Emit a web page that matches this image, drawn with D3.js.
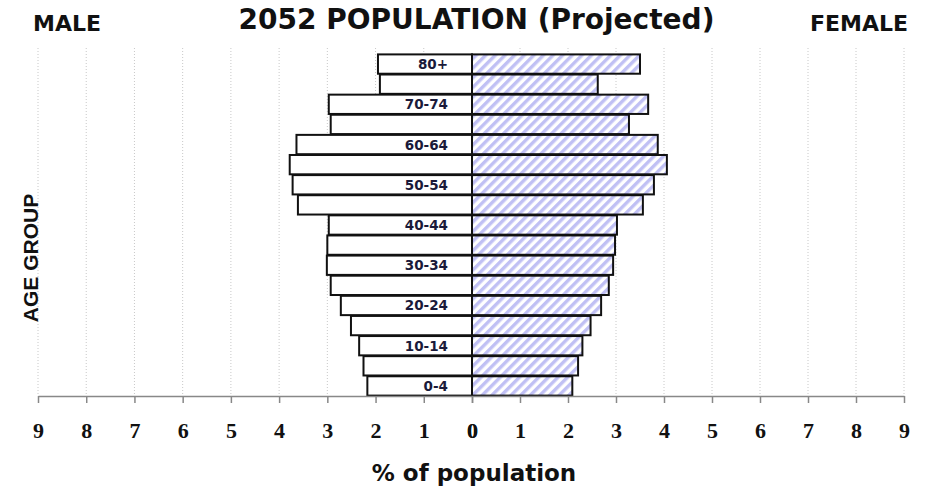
<!DOCTYPE html>
<html><head><meta charset="utf-8">
<script src="https://cdn.jsdelivr.net/npm/d3@7"></script>
<style>body{margin:0;background:#fff}svg{display:block}</style>
</head><body>
<svg id="c" width="928" height="493"></svg>
<script>
const ageGroups = ["0-4","5-9","10-14","15-19","20-24","25-29","30-34","35-39","40-44","45-49","50-54","55-59","60-64","65-69","70-74","75-79","80+"];
const maleValues =   [2.17,2.25,2.34,2.51,2.72,2.93,3.01,3.00,2.97,3.61,3.72,3.78,3.64,2.93,2.97,1.91,1.95];
const femaleValues = [2.09,2.21,2.30,2.47,2.69,2.85,2.94,2.98,3.02,3.56,3.79,4.06,3.87,3.27,3.67,2.62,3.50];
const tickValues = [0,1,2,3,4,5,6,7,8,9];

(function(){
const svg = d3.select("#c");
const cx = 472, pLeft = 38, pRight = 904, pTop = 54, pBottom = 396;
const xL = d3.scaleLinear().domain([0,9]).range([cx,pLeft]);
const xR = d3.scaleLinear().domain([0,9]).range([cx,pRight]);
const y = d3.scaleBand().domain(ageGroups.slice().reverse()).range([pTop,pBottom]).paddingInner(0.04).paddingOuter(0.02);

const defs = svg.append("defs");
const pat = defs.append("pattern").attr("id","hatch").attr("patternUnits","userSpaceOnUse")
  .attr("width",6.8).attr("height",10).attr("patternTransform","rotate(45)");
pat.append("rect").attr("width",6.8).attr("height",10).attr("fill","#fff");
pat.append("rect").attr("x",0).attr("width",3.4).attr("height",10).attr("fill","#c0c0f4");

const g = svg.append("g");
tickValues.filter(d=>d>0).forEach(d=>{
  [xL(d),xR(d)].forEach(x=>{
    g.append("line").attr("x1",x).attr("x2",x).attr("y1",pTop-6).attr("y2",pBottom)
      .attr("stroke","#c8c8c8").attr("stroke-width",1).attr("stroke-dasharray","1,2");
  });
});

svg.append("g").selectAll("rect").data(ageGroups).join("rect")
  .attr("x",(d,i)=>xL(maleValues[i])).attr("y",d=>y(d))
  .attr("width",(d,i)=>cx-xL(maleValues[i])).attr("height",y.bandwidth())
  .attr("fill","#fff").attr("stroke","#111").attr("stroke-width",2);
svg.append("g").selectAll("rect").data(ageGroups).join("rect")
  .attr("x",cx).attr("y",d=>y(d))
  .attr("width",(d,i)=>xR(femaleValues[i])-cx).attr("height",y.bandwidth())
  .attr("fill","url(#hatch)").attr("stroke","#111").attr("stroke-width",2);

svg.append("g").selectAll("text").data(ageGroups.filter((d,i)=>i%2===0)).join("text")
  .attr("x",448).attr("y",d=>y(d)+y.bandwidth()/2+5).attr("text-anchor","end")
  .attr("font-family","DejaVu Sans").attr("font-weight","bold").attr("font-size",13.5)
  .attr("fill","#1a1a3a").text(d=>d);

const axStyle = sel => {
  sel.select(".domain").attr("stroke","#888").attr("stroke-width",1.5);
  sel.selectAll(".tick line").attr("stroke","#888").attr("stroke-width",1.5);
  sel.selectAll(".tick text").attr("font-family","Liberation Serif").attr("font-weight","bold")
    .attr("font-size",22).attr("fill","#111").attr("dy",null).attr("y",42);
};
svg.append("g").attr("transform",`translate(0,${pBottom})`)
  .call(d3.axisBottom(xL).tickValues(tickValues).tickSize(7).tickSizeOuter(0).tickFormat(d3.format("d"))).call(axStyle);
svg.append("g").attr("transform",`translate(0,${pBottom})`)
  .call(d3.axisBottom(xR).tickValues(tickValues).tickSize(7).tickSizeOuter(0).tickFormat(d3.format("d"))).call(axStyle);

svg.append("text").attr("x",476.5).attr("y",29).attr("text-anchor","middle")
  .attr("font-family","DejaVu Sans").attr("font-weight","bold").attr("font-size",28)
  .attr("fill","#111").text("2052 POPULATION (Projected)");
svg.append("text").attr("x",33).attr("y",31)
  .attr("font-family","DejaVu Sans").attr("font-weight","bold").attr("font-size",22)
  .attr("fill","#111").text("MALE");
svg.append("text").attr("x",908).attr("y",31).attr("text-anchor","end")
  .attr("font-family","DejaVu Sans").attr("font-weight","bold").attr("font-size",22)
  .attr("fill","#111").text("FEMALE");
svg.append("text").attr("x",474).attr("y",481).attr("text-anchor","middle")
  .attr("font-family","DejaVu Sans").attr("font-weight","bold").attr("font-size",23)
  .attr("fill","#111").text("% of population");
svg.append("text").attr("transform","translate(38,258) rotate(-90)").attr("text-anchor","middle")
  .attr("font-family","Liberation Sans").attr("font-weight","bold").attr("font-size",21)
  .attr("fill","#111").text("AGE GROUP");
})();
</script>
</body></html>
